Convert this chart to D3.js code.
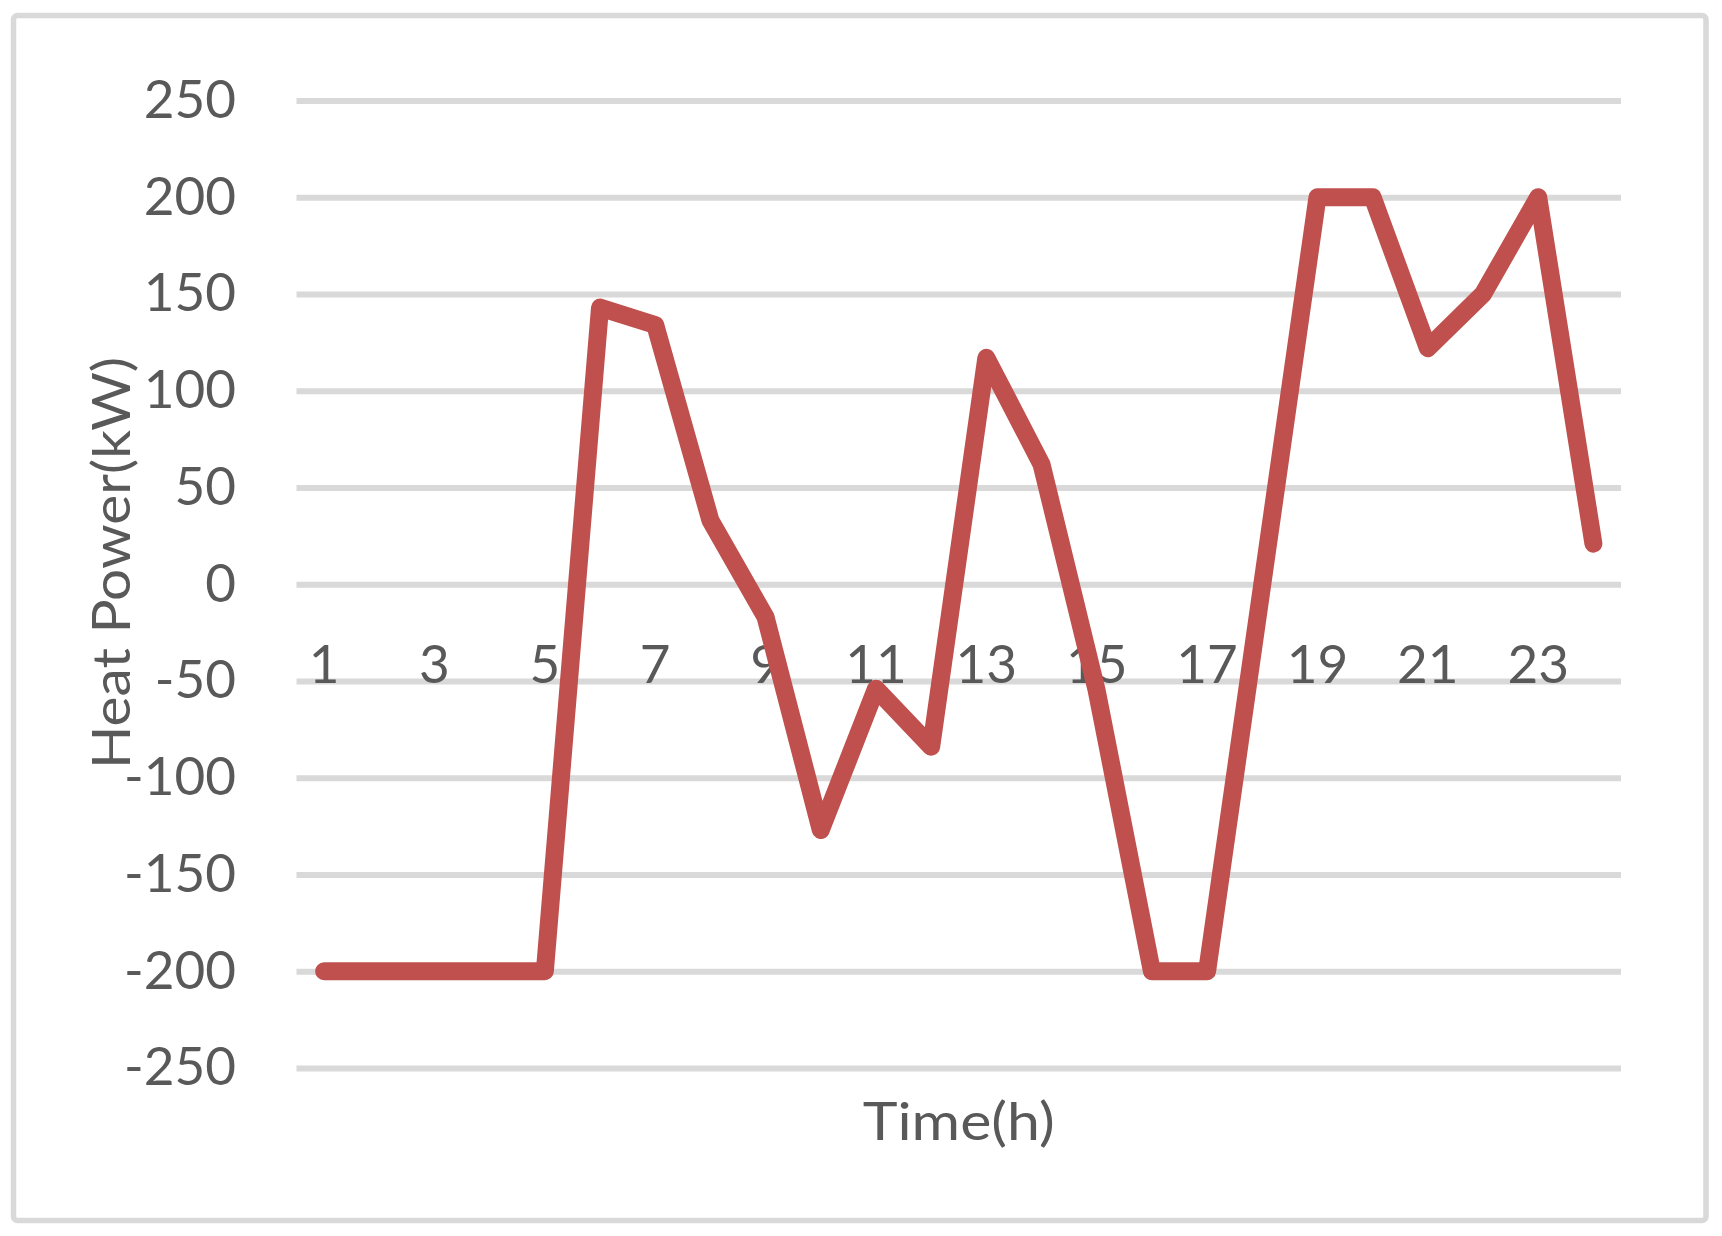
<!DOCTYPE html>
<html>
<head>
<meta charset="utf-8">
<script src="https://cdn.jsdelivr.net/npm/d3@7"></script>
<style>
  html, body { margin: 0; padding: 0; background: #ffffff; }
  svg { display: block; }
</style>
</head>
<body>
<svg id="chart" width="1722" height="1236"></svg>
<script>
// ---- data ----
const hours = ["1","2","3","4","5","6","7","8","9","10","11","12","13","14","15","16","17","18","19","20","21","22","23","24"];
const heatPower = [-200,-200,-200,-200,-200,143,134,33,-17,-127,-54,-84,117,62,-55,-200,-200,0,200,200,122,150,200,21];
const xTickLabels = ["1","3","5","7","9","11","13","15","17","19","21","23"];
const yTickValues = [250,200,150,100,50,0,-50,-100,-150,-200,-250];
const xTitle = "Time(h)";
const yTitle = "Heat Power(kW)";

(function () {
  // ---- layout ----
  const plotLeft = 296.5, plotRight = 1621, plotTop = 100.5, plotBottom = 1068;
  const textColor = "#595959";
  const gridColor = "#d9d9d9";
  const lineColor = "#C0504D";
  const font = "Lato, 'Open Sans', sans-serif";
  const fontSize = 53;

  const svg = d3.select("#chart");

  // outer border
  svg.append("rect")
    .attr("x", 13.5).attr("y", 15.5)
    .attr("width", 1706 - 13.5).attr("height", 1220.5 - 15.5)
    .attr("rx", 4).attr("ry", 4)
    .attr("fill", "#ffffff")
    .attr("stroke", gridColor)
    .attr("stroke-width", 5.5);

  const x = d3.scaleBand().domain(hours).range([plotLeft, plotRight]).padding(0);
  const y = d3.scaleLinear().domain([-250, 250]).range([plotBottom, plotTop]);

  // y axis with gridlines
  const yAxis = d3.axisLeft(y)
    .tickValues(yTickValues)
    .tickSize(-(plotRight - plotLeft))
    .tickPadding(plotLeft - 236)
    .tickFormat(d3.format("d"));

  const yg = svg.append("g")
    .attr("transform", `translate(${plotLeft},0)`)
    .call(yAxis);
  yg.select(".domain").remove();
  yg.selectAll(".tick line")
    .attr("stroke", gridColor)
    .attr("stroke-width", 6);
  yg.selectAll(".tick text")
    .attr("fill", textColor)
    .attr("font-family", font)
    .attr("font-size", fontSize)
    .attr("dy", "0.32em")
    .text(d => d < 0 ? "-" + Math.abs(d) : String(d));

  // x axis labels (category axis at value 0)
  const xAxis = d3.axisBottom(x)
    .tickValues(xTickLabels)
    .tickSize(0)
    .tickPadding(0);

  const xg = svg.append("g")
    .attr("transform", `translate(0,${y(0)})`)
    .call(xAxis);
  xg.select(".domain").remove();
  xg.selectAll(".tick text")
    .attr("fill", textColor)
    .attr("font-family", font)
    .attr("font-size", fontSize)
    .attr("y", 99)
    .attr("dy", 0);

  // line
  const line = d3.line()
    .x((d, i) => x(hours[i]) + x.bandwidth() / 2)
    .y(d => y(d));

  svg.append("path")
    .datum(heatPower)
    .attr("d", line)
    .attr("fill", "none")
    .attr("stroke", lineColor)
    .attr("stroke-width", 18)
    .attr("stroke-linejoin", "round")
    .attr("stroke-linecap", "round");

  // axis titles
  svg.append("text")
    .attr("x", (plotLeft + plotRight) / 2)
    .attr("y", 1140)
    .attr("text-anchor", "middle")
    .attr("fill", textColor)
    .attr("font-family", font)
    .attr("font-size", fontSize)
    .attr("textLength", 192)
    .attr("lengthAdjust", "spacingAndGlyphs")
    .text(xTitle);

  svg.append("text")
    .attr("transform", `translate(130,563) rotate(-90)`)
    .attr("text-anchor", "middle")
    .attr("fill", textColor)
    .attr("font-family", font)
    .attr("font-size", fontSize)
    .attr("textLength", 412)
    .attr("lengthAdjust", "spacingAndGlyphs")
    .text(yTitle);
})();
</script>
</body>
</html>
